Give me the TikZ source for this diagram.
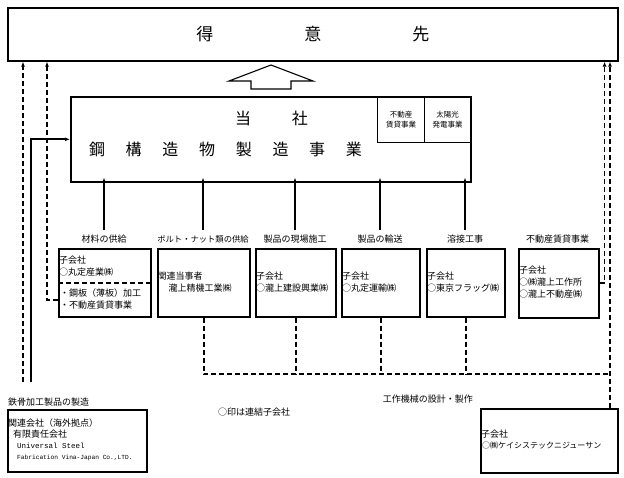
\documentclass[tikz,border=0pt]{standalone}
\usepackage{fontspec}
\setmainfont{Noto Sans CJK JP}
\newfontfamily\monof{Liberation Mono}
\usetikzlibrary{arrows.meta,calc}
\begin{document}
\begin{tikzpicture}[x=1pt,y=-1pt,
  box/.style={draw,line width=1.6pt,inner sep=0pt,anchor=north west},
  sbox/.style={draw,line width=1.1pt,inner sep=0pt,anchor=north west},
  txt/.style={inner sep=0pt,anchor=west,align=left,font=\fontsize{9}{12}\selectfont},
  lbl/.style={inner sep=0pt,font=\fontsize{9}{12}\selectfont},
  dsh/.style={line width=1.6pt,dash pattern=on 5pt off 3pt},
  sol/.style={line width=1.6pt},
  tip/.style={-{Latex[length=5pt,width=4pt]}}
]
\path[use as bounding box] (0,0) rectangle (624,478);

% top box
\node[box,minimum width=610pt,minimum height=53pt] (toku) at (7,7) {};
\node[inner sep=0pt,font=\fontsize{17}{17}\selectfont] (tokut) at (toku.center) {得\hspace{91pt}意\hspace{91pt}先};

% hollow arrow
\coordinate (htip) at (271,65);
\draw[line width=1.1pt] (htip) -- (313,81) -- (291,81) -- (291,89) -- (251,89) -- (251,81) -- (229,81) -- cycle;

% main box
\node[box,minimum width=400pt,minimum height=85pt] (tosha) at (70,96) {};
\node[sbox,minimum width=47pt,minimum height=46pt] (fd) at (377,96) {};
\node[sbox,minimum width=46pt,minimum height=46pt] (ty) at (424,96) {};
\node[inner sep=0pt,align=center,font=\fontsize{7.5}{10.5}\selectfont] (fdt) at (fd.center) {不動産\\賃貸事業};
\node[inner sep=0pt,align=center,font=\fontsize{7.5}{10.5}\selectfont] (tyt) at (ty.center) {太陽光\\発電事業};
\node[inner sep=0pt,font=\fontsize{16}{16}\selectfont] (tosha1) at (271.5,118) {当\hspace{41pt}社};
\node[inner sep=0pt,font=\fontsize{16}{16}\selectfont] (tosha2) at (225.5,149) {鋼\hspace{20.7pt}構\hspace{20.7pt}造\hspace{20.7pt}物\hspace{20.7pt}製\hspace{20.7pt}造\hspace{20.7pt}事\hspace{20.7pt}業};

% labels
\node[lbl] (l1) at (104,239) {材料の供給};
\node[lbl,font=\fontsize{8.3}{12}\selectfont] (l2) at (203,239) {ボルト・ナット類の供給};
\node[lbl] (l3) at (295,239) {製品の現場施工};
\node[lbl] (l4) at (380,239) {製品の輸送};
\node[lbl] (l5) at (465,239) {溶接工事};
\node[lbl] (l6) at (557.5,239) {不動産賃貸事業};

% boxes
\node[box,minimum width=92pt,minimum height=68pt] (b1) at (58,248) {};
\node[box,minimum width=92pt,minimum height=68pt] (b2) at (157,248) {};
\node[box,minimum width=80pt,minimum height=68pt] (b3) at (255,248) {};
\node[box,minimum width=78pt,minimum height=68pt] (b4) at (341,248) {};
\node[box,minimum width=78pt,minimum height=68pt] (b5) at (426,248) {};
\node[box,minimum width=80pt,minimum height=69pt] (b6) at (518,248) {};
\draw[dsh] (b1.west) -- (b1.east);

\node[txt] (t1) at (59,266) {子会社\\○丸定産業㈱};
\node[txt] (t1b) at (60,299) {・鋼板（薄板）加工\\・不動産賃貸事業};
\node[txt] (t2) at (157.5,282) {関連当事者\\\hspace*{11pt}瀧上精機工業㈱};
\node[txt] (t3) at (256,282) {子会社\\○瀧上建設興業㈱};
\node[txt] (t4) at (342,282) {子会社\\○丸定運輸㈱};
\node[txt] (t5) at (427,282) {子会社\\○東京フラッグ㈱};
\node[txt] (t6) at (519,282) {子会社\\○㈱瀧上工作所\\○瀧上不動産㈱};

% up arrows into main box
\foreach \l in {l1,l2,l3,l4,l5}
  \draw[sol,tip] ([yshift=5pt]\l.north) -- ([yshift=5pt]\l.north |- tosha.south);

% bottom boxes
\node[box,minimum width=139pt,minimum height=62pt] (kl) at (7,409) {};
\node[box,minimum width=137pt,minimum height=64pt] (kb) at (480,408) {};
\node[lbl,anchor=west] (kllbl) at (8,402) {鉄骨加工製品の製造};
\node[lbl,anchor=east] (kblbl) at (473,399) {工作機械の設計・製作};
\node[lbl,anchor=west] (note) at (218,412) {○印は連結子会社};

\node[txt] (k1) at (8,423) {関連会社（海外拠点）};
\node[txt] (k2) at (13,434.5) {有限責任会社};
\node[txt,font=\monof\fontsize{7.5}{9}\selectfont] (k3) at (17,446) {Universal Steel};
\node[txt,font=\monof\fontsize{6.2}{8}\selectfont] (k4) at (17,458) {Fabrication Vina-Japan Co.,LTD.};

\node[txt] (r1) at (481,434) {子会社};
\node[txt,font=\fontsize{8}{10}\selectfont] (r2) at (482,445.5) {○㈱ケイシステックニジューサン};

% dashed network
\coordinate (hj) at (610,374);
\draw[dsh] (b2.south) |- (hj);
\draw[dsh] (b3.south) -- (b3.south |- hj);
\draw[dsh] (b4.south) -- (b4.south |- hj);
\draw[dsh] (b5.south) -- (b5.south |- hj);
\draw[dsh,tip] (kb.north -| hj) -- (hj |- toku.south);
\draw[dsh,tip] (b6.east) -| ([xshift=5pt]b6.east |- toku.south);

% left lines
\coordinate (lend1) at (23,382);
\coordinate (lend2) at (31,382);
\coordinate (lx) at (47,0);
\coordinate (b1low) at ($(b1.west)!0.5!(b1.south west)$);
\draw[dsh,tip] (lend1) -- (lend1 |- toku.south);
\draw[sol,tip] (lend2) |- (tosha.west);
\draw[dsh,tip] (b1low) -| (lx |- toku.south);
\end{tikzpicture}
\end{document}
